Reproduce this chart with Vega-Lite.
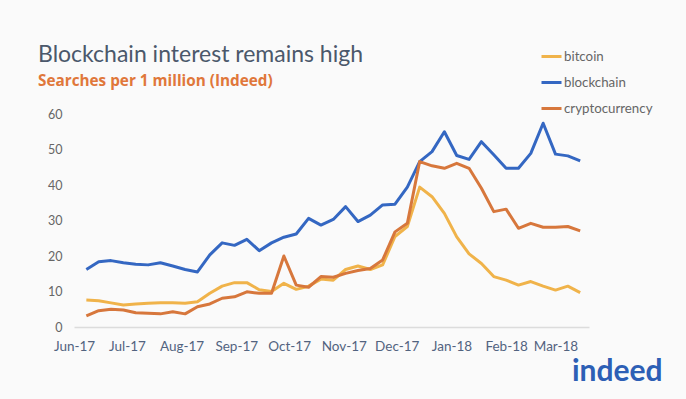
{
  "$schema": "https://vega.github.io/schema/vega-lite/v6.json",
  "width": 515,
  "height": 213,
  "autosize": {"type": "none"},
  "padding": {"left": 74, "top": 114, "right": 97, "bottom": 72},
  "background": "#fafafa",
  "config": {
    "view": {"stroke": null},
    "font": "Lato",
    "axisY": {"labelOverlap": false, "domain": false, "ticks": false, "grid": false, "labelPadding": 12, "labelColor": "#666666", "labelFontSize": 12.5},
    "axisX": {"labelOverlap": false, "ticks": false, "grid": false}
  },
  "title": {
    "text": "Blockchain interest remains high",
    "subtitle": "Searches per 1 million (Indeed)",
    "anchor": "start",
    "frame": "group",
    "dx": -36,
    "font": "Lato",
    "fontSize": 23,
    "fontWeight": "normal",
    "color": "#4b586b",
    "subtitleFont": "Open Sans",
    "subtitleFontSize": 15.3,
    "subtitleFontWeight": "bold",
    "subtitleColor": "#e0773a",
    "subtitlePadding": 7,
    "offset": -44
  },
  "layer": [
    {
      "data": {"values": [
        {"date": "2017/06/08", "series": "bitcoin", "value": 7.6},
        {"date": "2017/06/15", "series": "bitcoin", "value": 7.4},
        {"date": "2017/06/22", "series": "bitcoin", "value": 6.8},
        {"date": "2017/06/29", "series": "bitcoin", "value": 6.2},
        {"date": "2017/07/06", "series": "bitcoin", "value": 6.5},
        {"date": "2017/07/13", "series": "bitcoin", "value": 6.7},
        {"date": "2017/07/20", "series": "bitcoin", "value": 6.8},
        {"date": "2017/07/27", "series": "bitcoin", "value": 6.8},
        {"date": "2017/08/03", "series": "bitcoin", "value": 6.7},
        {"date": "2017/08/10", "series": "bitcoin", "value": 7.1},
        {"date": "2017/08/17", "series": "bitcoin", "value": 9.5},
        {"date": "2017/08/24", "series": "bitcoin", "value": 11.5},
        {"date": "2017/08/31", "series": "bitcoin", "value": 12.5},
        {"date": "2017/09/07", "series": "bitcoin", "value": 12.5},
        {"date": "2017/09/14", "series": "bitcoin", "value": 10.5},
        {"date": "2017/09/21", "series": "bitcoin", "value": 10.0},
        {"date": "2017/09/28", "series": "bitcoin", "value": 12.3},
        {"date": "2017/10/05", "series": "bitcoin", "value": 10.6},
        {"date": "2017/10/12", "series": "bitcoin", "value": 11.5},
        {"date": "2017/10/19", "series": "bitcoin", "value": 13.5},
        {"date": "2017/10/26", "series": "bitcoin", "value": 13.2},
        {"date": "2017/11/02", "series": "bitcoin", "value": 16.2},
        {"date": "2017/11/09", "series": "bitcoin", "value": 17.2},
        {"date": "2017/11/16", "series": "bitcoin", "value": 16.2},
        {"date": "2017/11/23", "series": "bitcoin", "value": 17.5},
        {"date": "2017/11/30", "series": "bitcoin", "value": 25.5},
        {"date": "2017/12/07", "series": "bitcoin", "value": 28.3},
        {"date": "2017/12/14", "series": "bitcoin", "value": 39.4},
        {"date": "2017/12/21", "series": "bitcoin", "value": 36.7},
        {"date": "2017/12/28", "series": "bitcoin", "value": 32.0},
        {"date": "2018/01/04", "series": "bitcoin", "value": 25.4},
        {"date": "2018/01/11", "series": "bitcoin", "value": 20.6},
        {"date": "2018/01/18", "series": "bitcoin", "value": 17.9},
        {"date": "2018/01/25", "series": "bitcoin", "value": 14.2},
        {"date": "2018/02/01", "series": "bitcoin", "value": 13.2},
        {"date": "2018/02/08", "series": "bitcoin", "value": 11.8},
        {"date": "2018/02/15", "series": "bitcoin", "value": 12.8},
        {"date": "2018/02/22", "series": "bitcoin", "value": 11.5},
        {"date": "2018/03/01", "series": "bitcoin", "value": 10.4},
        {"date": "2018/03/08", "series": "bitcoin", "value": 11.5},
        {"date": "2018/03/15", "series": "bitcoin", "value": 9.7},
        {"date": "2017/06/08", "series": "blockchain", "value": 16.2},
        {"date": "2017/06/15", "series": "blockchain", "value": 18.4},
        {"date": "2017/06/22", "series": "blockchain", "value": 18.7},
        {"date": "2017/06/29", "series": "blockchain", "value": 18.1},
        {"date": "2017/07/06", "series": "blockchain", "value": 17.7},
        {"date": "2017/07/13", "series": "blockchain", "value": 17.5},
        {"date": "2017/07/20", "series": "blockchain", "value": 18.1},
        {"date": "2017/07/27", "series": "blockchain", "value": 17.2},
        {"date": "2017/08/03", "series": "blockchain", "value": 16.2},
        {"date": "2017/08/10", "series": "blockchain", "value": 15.5},
        {"date": "2017/08/17", "series": "blockchain", "value": 20.3},
        {"date": "2017/08/24", "series": "blockchain", "value": 23.7},
        {"date": "2017/08/31", "series": "blockchain", "value": 23.0},
        {"date": "2017/09/07", "series": "blockchain", "value": 24.7},
        {"date": "2017/09/14", "series": "blockchain", "value": 21.5},
        {"date": "2017/09/21", "series": "blockchain", "value": 23.7},
        {"date": "2017/09/28", "series": "blockchain", "value": 25.3},
        {"date": "2017/10/05", "series": "blockchain", "value": 26.2},
        {"date": "2017/10/12", "series": "blockchain", "value": 30.6},
        {"date": "2017/10/19", "series": "blockchain", "value": 28.7},
        {"date": "2017/10/26", "series": "blockchain", "value": 30.3},
        {"date": "2017/11/02", "series": "blockchain", "value": 33.9},
        {"date": "2017/11/09", "series": "blockchain", "value": 29.7},
        {"date": "2017/11/16", "series": "blockchain", "value": 31.5},
        {"date": "2017/11/23", "series": "blockchain", "value": 34.4},
        {"date": "2017/11/30", "series": "blockchain", "value": 34.6},
        {"date": "2017/12/07", "series": "blockchain", "value": 39.4},
        {"date": "2017/12/14", "series": "blockchain", "value": 46.6},
        {"date": "2017/12/21", "series": "blockchain", "value": 49.4},
        {"date": "2017/12/28", "series": "blockchain", "value": 55.0},
        {"date": "2018/01/04", "series": "blockchain", "value": 48.3},
        {"date": "2018/01/11", "series": "blockchain", "value": 47.2},
        {"date": "2018/01/18", "series": "blockchain", "value": 52.2},
        {"date": "2018/01/25", "series": "blockchain", "value": 48.5},
        {"date": "2018/02/01", "series": "blockchain", "value": 44.7},
        {"date": "2018/02/08", "series": "blockchain", "value": 44.7},
        {"date": "2018/02/15", "series": "blockchain", "value": 48.9},
        {"date": "2018/02/22", "series": "blockchain", "value": 57.4},
        {"date": "2018/03/01", "series": "blockchain", "value": 48.7},
        {"date": "2018/03/08", "series": "blockchain", "value": 48.2},
        {"date": "2018/03/15", "series": "blockchain", "value": 46.8},
        {"date": "2017/06/08", "series": "cryptocurrency", "value": 3.1},
        {"date": "2017/06/15", "series": "cryptocurrency", "value": 4.6},
        {"date": "2017/06/22", "series": "cryptocurrency", "value": 5.0},
        {"date": "2017/06/29", "series": "cryptocurrency", "value": 4.8},
        {"date": "2017/07/06", "series": "cryptocurrency", "value": 4.0},
        {"date": "2017/07/13", "series": "cryptocurrency", "value": 3.9},
        {"date": "2017/07/20", "series": "cryptocurrency", "value": 3.7},
        {"date": "2017/07/27", "series": "cryptocurrency", "value": 4.3},
        {"date": "2017/08/03", "series": "cryptocurrency", "value": 3.7},
        {"date": "2017/08/10", "series": "cryptocurrency", "value": 5.7},
        {"date": "2017/08/17", "series": "cryptocurrency", "value": 6.5},
        {"date": "2017/08/24", "series": "cryptocurrency", "value": 8.1},
        {"date": "2017/08/31", "series": "cryptocurrency", "value": 8.5},
        {"date": "2017/09/07", "series": "cryptocurrency", "value": 9.9},
        {"date": "2017/09/14", "series": "cryptocurrency", "value": 9.5},
        {"date": "2017/09/21", "series": "cryptocurrency", "value": 9.5},
        {"date": "2017/09/28", "series": "cryptocurrency", "value": 20.0},
        {"date": "2017/10/05", "series": "cryptocurrency", "value": 11.8},
        {"date": "2017/10/12", "series": "cryptocurrency", "value": 11.2},
        {"date": "2017/10/19", "series": "cryptocurrency", "value": 14.2},
        {"date": "2017/10/26", "series": "cryptocurrency", "value": 14.0},
        {"date": "2017/11/02", "series": "cryptocurrency", "value": 15.1},
        {"date": "2017/11/09", "series": "cryptocurrency", "value": 15.9},
        {"date": "2017/11/16", "series": "cryptocurrency", "value": 16.5},
        {"date": "2017/11/23", "series": "cryptocurrency", "value": 18.9},
        {"date": "2017/11/30", "series": "cryptocurrency", "value": 26.8},
        {"date": "2017/12/07", "series": "cryptocurrency", "value": 29.2},
        {"date": "2017/12/14", "series": "cryptocurrency", "value": 46.6},
        {"date": "2017/12/21", "series": "cryptocurrency", "value": 45.4},
        {"date": "2017/12/28", "series": "cryptocurrency", "value": 44.7},
        {"date": "2018/01/04", "series": "cryptocurrency", "value": 46.1},
        {"date": "2018/01/11", "series": "cryptocurrency", "value": 44.7},
        {"date": "2018/01/18", "series": "cryptocurrency", "value": 39.1},
        {"date": "2018/01/25", "series": "cryptocurrency", "value": 32.5},
        {"date": "2018/02/01", "series": "cryptocurrency", "value": 33.2},
        {"date": "2018/02/08", "series": "cryptocurrency", "value": 27.8},
        {"date": "2018/02/15", "series": "cryptocurrency", "value": 29.2},
        {"date": "2018/02/22", "series": "cryptocurrency", "value": 28.1},
        {"date": "2018/03/01", "series": "cryptocurrency", "value": 28.1},
        {"date": "2018/03/08", "series": "cryptocurrency", "value": 28.3},
        {"date": "2018/03/15", "series": "cryptocurrency", "value": 27.1}
      ]},
      "mark": {"type": "line", "strokeWidth": 3, "strokeJoin": "round"},
      "encoding": {
        "x": {
          "field": "date",
          "type": "temporal",
          "scale": {"domain": [{"year": 2017, "month": 6, "date": 1}, {"year": 2018, "month": 3, "date": 20}]},
          "axis": {
            "title": null,
            "format": "%b-%y",
            "tickCount": {"interval": "month", "step": 1},
            "domainColor": "#dcdcdc",
            "domainWidth": 1.5,
            "ticks": false,
            "grid": false,
            "labelPadding": 12,
            "labelColor": "#52637f",
            "labelFontSize": 13.5,
            "labelFlush": false,
            "labelOverlap": false
          }
        },
        "y": {
          "field": "value",
          "type": "quantitative",
          "scale": {"domain": [0, 60], "nice": false},
          "axis": {
            "title": null,
            "values": [0, 10, 20, 30, 40, 50, 60],
            "domain": false,
            "ticks": false,
            "grid": false,
            "labelPadding": 12,
            "labelColor": "#666666",
            "labelFontSize": 12.5,
            "labelOverlap": false
          }
        },
        "color": {
          "field": "series",
          "type": "nominal",
          "scale": {"domain": ["bitcoin", "blockchain", "cryptocurrency"], "range": ["#f0b34a", "#3467c2", "#d7773c"]},
          "legend": {
            "orient": "none",
            "legendX": 466,
            "legendY": -69,
            "title": null,
            "symbolType": "stroke",
            "symbolStrokeWidth": 3,
            "symbolSize": 400,
            "labelFontSize": 13.3,
            "labelColor": "#666666",
            "labelOffset": 1,
            "rowPadding": 8
          }
        }
      }
    },
    {
      "data": {"values": [{"logo": "indeed"}]},
      "mark": {"type": "text", "fontSize": 30, "fontWeight": "bold", "color": "#2d5fb5", "align": "center", "baseline": "middle", "clip": false},
      "encoding": {
        "x": {
          "datum": {"year": 2018, "month": 4, "date": 5},
          "type": "temporal",
          "axis": {
            "title": null,
            "format": "%b-%y",
            "tickCount": {"interval": "month", "step": 1},
            "domainColor": "#dcdcdc",
            "domainWidth": 1.5,
            "ticks": false,
            "grid": false,
            "labelPadding": 12,
            "labelColor": "#52637f",
            "labelFontSize": 13.5,
            "labelFlush": false,
            "labelOverlap": false
          }
        },
        "y": {
          "datum": -12.7,
          "type": "quantitative",
          "axis": {
            "title": null,
            "values": [0, 10, 20, 30, 40, 50, 60],
            "domain": false,
            "ticks": false,
            "grid": false,
            "labelPadding": 12,
            "labelColor": "#666666",
            "labelFontSize": 12.5,
            "labelOverlap": false
          }
        },
        "text": {"field": "logo"}
      }
    }
  ]
}
